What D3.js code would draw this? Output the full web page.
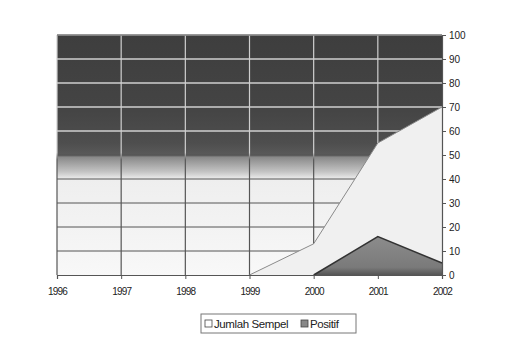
<!DOCTYPE html>
<html>
<head>
<meta charset="utf-8">
<script src="https://cdn.jsdelivr.net/npm/d3@7"></script>
<style>
  html, body { margin: 0; padding: 0; background: #fff; }
  svg { display: block; font-family: "Liberation Sans", Arial, sans-serif; }
</style>
</head>
<body>
<svg id="chart" width="520" height="341"></svg>
<script>
// data
let years = [1996, 1997, 1998, 1999, 2000, 2001, 2002]
let jumlahSempel = [0, 0, 0, 0, 13, 55, 70]
let positif = [0, 0, 0, 0, 0, 16, 5]
let yTicks = [0, 10, 20, 30, 40, 50, 60, 70, 80, 90, 100]
let seriesNames = ['Jumlah Sempel', 'Positif']

let svg = d3.select('#chart')
let plotLeft = 57, plotRight = 442, plotTop = 35, plotBottom = 275

let x = d3.scaleLinear().domain([1996, 2002]).range([plotLeft, plotRight])
let y = d3.scaleLinear().domain([0, 100]).range([plotBottom, plotTop])

let defs = svg.append('defs')

// plot background: dark above 50, fading to white by 40
let bg = defs.append('linearGradient')
  .attr('id', 'bgGrad')
  .attr('gradientUnits', 'userSpaceOnUse')
  .attr('x1', 0).attr('x2', 0)
  .attr('y1', y(100)).attr('y2', y(0))
bg.append('stop').attr('offset', 0).attr('stop-color', '#3e3e3e')
bg.append('stop').attr('offset', 0.3).attr('stop-color', '#444')
bg.append('stop').attr('offset', 0.45).attr('stop-color', '#4e4e4e')
bg.append('stop').attr('offset', 0.5).attr('stop-color', '#5a5a5a')
bg.append('stop').attr('offset', 0.51).attr('stop-color', '#8a8a8a')
bg.append('stop').attr('offset', 0.57).attr('stop-color', '#c4c4c4')
bg.append('stop').attr('offset', 0.6).attr('stop-color', '#eeeeee')
bg.append('stop').attr('offset', 1).attr('stop-color', '#f8f8f8')

// grid stroke: light over dark part, dark over light part
let gs = defs.append('linearGradient')
  .attr('id', 'gridGrad')
  .attr('gradientUnits', 'userSpaceOnUse')
  .attr('x1', 0).attr('x2', 0)
  .attr('y1', y(100)).attr('y2', y(0))
gs.append('stop').attr('offset', 0).attr('stop-color', '#cfcfcf')
gs.append('stop').attr('offset', 0.49).attr('stop-color', '#cfcfcf')
gs.append('stop').attr('offset', 0.52).attr('stop-color', '#555')
gs.append('stop').attr('offset', 1).attr('stop-color', '#555')

let pg = defs.append('linearGradient')
  .attr('id', 'posGrad')
  .attr('x1', 0).attr('x2', 0).attr('y1', 0).attr('y2', 1)
pg.append('stop').attr('offset', 0).attr('stop-color', '#8c8c8c')
pg.append('stop').attr('offset', 0.8).attr('stop-color', '#7a7a7a')
pg.append('stop').attr('offset', 1).attr('stop-color', '#555')

svg.append('rect')
  .attr('x', plotLeft).attr('y', plotTop)
  .attr('width', plotRight - plotLeft).attr('height', plotBottom - plotTop)
  .attr('fill', 'url(#bgGrad)')

// horizontal grid
svg.append('g').selectAll('line')
  .data(yTicks.filter(d => d > 0))
  .join('line')
  .attr('x1', plotLeft).attr('x2', plotRight)
  .attr('y1', d => y(d)).attr('y2', d => y(d))
  .attr('stroke', d => d > 50 ? '#cfcfcf' : '#555')
  .attr('stroke-width', d => d > 50 ? 1.6 : 1)

// vertical grid
svg.append('g').selectAll('line')
  .data(years.slice(1, -1))
  .join('line')
  .attr('x1', d => x(d)).attr('x2', d => x(d))
  .attr('y1', plotTop).attr('y2', plotBottom)
  .attr('stroke', 'url(#gridGrad)')
  .attr('stroke-width', 1.2)

// left border
svg.append('line')
  .attr('x1', plotLeft).attr('x2', plotLeft)
  .attr('y1', plotTop).attr('y2', plotBottom)
  .attr('stroke', 'url(#gridGrad)')
  .attr('stroke-width', 1.2)

let jumlahData = years.map((d, i) => ({ year: d, v: jumlahSempel[i] }))
let posData = years.map((d, i) => ({ year: d, v: positif[i] }))

let area = d3.area()
  .x(d => x(d.year))
  .y0(y(0))
  .y1(d => y(d.v))
let line = d3.line()
  .x(d => x(d.year))
  .y(d => y(d.v))

// Jumlah Sempel area, starting where it leaves zero
let jStart = jumlahSempel.findIndex(v => v > 0) - 1
let jVis = jumlahData.slice(jStart)
svg.append('path')
  .attr('d', area(jVis))
  .attr('fill', '#f0f0f0')
svg.append('path')
  .attr('d', line(jVis))
  .attr('fill', 'none')
  .attr('stroke', '#8a8a8a')
  .attr('stroke-width', 1)

// Positif area
let pStart = positif.findIndex(v => v > 0) - 1
let pVis = posData.slice(pStart)
svg.append('path')
  .attr('d', area(pVis))
  .attr('fill', 'url(#posGrad)')
svg.append('path')
  .attr('d', line(pVis))
  .attr('fill', 'none')
  .attr('stroke', '#333')
  .attr('stroke-width', 1.5)

// top border
svg.append('line')
  .attr('x1', plotLeft).attr('x2', plotRight)
  .attr('y1', plotTop).attr('y2', plotTop)
  .attr('stroke', '#555')

// right axis
let yAxis = svg.append('g')
  .attr('transform', `translate(${plotRight},0)`)
  .call(d3.axisRight(y).tickValues(yTicks).tickSize(4).tickPadding(3))
yAxis.select('.domain').attr('stroke', '#555').attr('stroke-width', 1.2)
yAxis.selectAll('.tick line').attr('stroke', '#555')
yAxis.selectAll('text')
  .attr('font-size', 10)
  .attr('fill', '#222')

// bottom axis
let xAxis = svg.append('g')
  .attr('transform', `translate(0,${plotBottom})`)
  .call(d3.axisBottom(x).tickValues(years).tickFormat(d3.format('d')).tickSize(4).tickPadding(9))
xAxis.select('.domain').attr('stroke', '#555').attr('stroke-width', 1.2)
xAxis.selectAll('.tick line').attr('stroke', '#555')
xAxis.selectAll('text')
  .attr('font-size', 10)
  .attr('fill', '#222')
  .attr('letter-spacing', -0.8)

// legend
let legend = svg.append('g').attr('transform', 'translate(201,314)')
legend.append('rect')
  .attr('width', 155).attr('height', 19)
  .attr('fill', '#fff')
  .attr('stroke', '#777')
let items = legend.selectAll('g.item')
  .data(seriesNames)
  .join('g')
  .attr('class', 'item')
  .attr('transform', (d, i) => `translate(${i === 0 ? 4 : 100},0)`)
items.append('rect')
  .attr('x', 0).attr('y', 6)
  .attr('width', 7).attr('height', 7)
  .attr('fill', (d, i) => i === 0 ? '#fff' : '#888')
  .attr('stroke', '#444')
  .attr('stroke-width', 0.8)
items.append('text')
  .attr('x', 9).attr('y', 14)
  .attr('font-size', 11.5)
  .attr('fill', '#222')
  .attr('letter-spacing', -0.4)
  .text(d => d)
</script>
</body>
</html>
